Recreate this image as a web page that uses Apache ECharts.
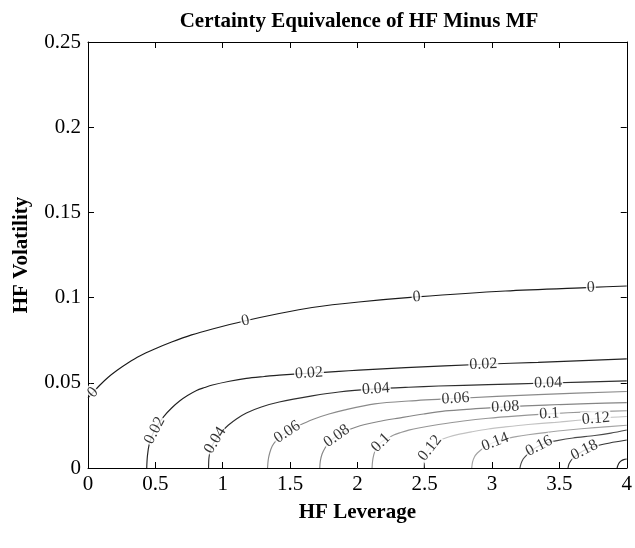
<!DOCTYPE html>
<html>
<head>
<meta charset="utf-8">
<script src="https://cdn.jsdelivr.net/npm/echarts@6/dist/echarts.min.js"></script>
<style>
  html, body { margin: 0; padding: 0; background: #fff; }
  #chart { width: 635px; height: 548px; }
</style>
</head>
<body>
<div id="chart"></div>
<script>
// Contour levels of the certainty-equivalence difference (HF minus MF)
const levels = [0, 0.02, 0.04, 0.06, 0.08, 0.1, 0.12, 0.14, 0.16, 0.18, 0.2];

// Each contour: [HF leverage, HF volatility] pairs
const contour000 = [[0,0.0411],[0.037,0.0443],[0.089,0.0487],[0.148,0.0531],[0.214,0.0572],[0.296,0.0616],[0.384,0.0657],[0.495,0.0698],[0.621,0.0739],[0.769,0.0781],[0.924,0.0816],[1.161,0.0863],[1.420,0.0907],[1.664,0.0942],[2.011,0.0974],[2.440,0.1004],[3.098,0.1039],[3.734,0.1060],[4.0,0.1068]];
const contour002 = [[0.436,0],[0.441,0.0070],[0.455,0.0141],[0.481,0.0200],[0.518,0.0252],[0.562,0.0302],[0.621,0.0352],[0.680,0.0393],[0.739,0.0425],[0.806,0.0455],[0.865,0.0472],[0.924,0.0487],[1.050,0.0509],[1.176,0.0526],[1.309,0.0537],[1.420,0.0545],[1.641,0.0556],[1.863,0.0567],[2.011,0.0574],[2.359,0.0589],[2.935,0.0609],[3.342,0.0620],[4.0,0.0640]];
const contour004 = [[0.895,0],[0.898,0.0059],[0.909,0.0106],[0.932,0.0147],[0.961,0.0182],[0.998,0.0217],[1.043,0.0252],[1.102,0.0288],[1.176,0.0323],[1.287,0.0358],[1.420,0.0387],[1.664,0.0423],[1.863,0.0446],[2.137,0.0464],[2.381,0.0474],[2.603,0.0481],[2.972,0.0489],[3.416,0.0499],[4.0,0.0511]];
const contour006 = [[1.333,0],[1.338,0.0047],[1.349,0.0088],[1.368,0.0129],[1.397,0.0161],[1.434,0.0188],[1.479,0.0211],[1.530,0.0235],[1.582,0.0255],[1.678,0.0288],[1.789,0.0317],[1.900,0.0340],[2.129,0.0376],[2.381,0.0393],[2.728,0.0408],[3.342,0.0431],[4.0,0.0449]];
const contour008 = [[1.721,0],[1.725,0.0041],[1.738,0.0082],[1.760,0.0117],[1.789,0.0150],[1.826,0.0176],[1.871,0.0200],[1.922,0.0220],[1.982,0.0238],[2.055,0.0255],[2.159,0.0273],[2.307,0.0293],[2.492,0.0317],[2.654,0.0335],[2.861,0.0347],[3.098,0.0359],[3.394,0.0369],[3.712,0.0378],[4.0,0.0384]];
const contour010 = [[2.109,0],[2.113,0.0041],[2.122,0.0079],[2.137,0.0112],[2.159,0.0138],[2.189,0.0158],[2.226,0.0176],[2.270,0.0194],[2.322,0.0208],[2.381,0.0222],[2.455,0.0235],[2.603,0.0255],[2.787,0.0276],[2.972,0.0292],[3.194,0.0306],[3.416,0.0318],[3.712,0.0329],[4.0,0.0336]];
const contour012 = [[2.492,0],[2.496,0.0035],[2.506,0.0070],[2.525,0.0103],[2.551,0.0129],[2.584,0.0150],[2.625,0.0167],[2.677,0.0182],[2.750,0.0197],[2.847,0.0212],[2.972,0.0229],[3.098,0.0241],[3.268,0.0255],[3.468,0.0268],[3.638,0.0280],[3.815,0.0293],[4.0,0.0302]];
const contour014 = [[2.849,0],[2.855,0.0035],[2.869,0.0065],[2.891,0.0088],[2.921,0.0109],[2.957,0.0129],[3.002,0.0147],[3.054,0.0161],[3.113,0.0173],[3.179,0.0184],[3.268,0.0195],[3.394,0.0208],[3.564,0.0223],[3.763,0.0237],[4.0,0.0251]];
const contour016 = [[3.207,0],[3.215,0.0026],[3.231,0.0053],[3.257,0.0076],[3.290,0.0100],[3.327,0.0120],[3.372,0.0138],[3.424,0.0151],[3.483,0.0161],[3.601,0.0176],[3.763,0.0191],[3.882,0.0205],[4.0,0.0223]];
const contour018 = [[3.564,0],[3.571,0.0023],[3.586,0.0044],[3.612,0.0065],[3.645,0.0085],[3.682,0.0103],[3.726,0.0117],[3.786,0.0132],[3.874,0.0147],[4.0,0.0164]];
const contour020 = [[3.928,0],[3.934,0.0015],[3.945,0.0031],[3.960,0.0042],[3.978,0.0049],[4.0,0.0053]];

const contours = [contour000, contour002, contour004, contour006, contour008, contour010,
                  contour012, contour014, contour016, contour018, contour020];

// In-line contour labels: [level, leverage, volatility] (snapped onto the contour below)
const contourLabels = [
  [0, 0.037, 0.0443], [0, 1.168, 0.0869], [0, 2.440, 0.1004], [0, 3.734, 0.1060],
  [0.02, 0.495, 0.0220], [0.02, 1.641, 0.0556], [0.02, 2.935, 0.0609],
  [0.04, 0.957, 0.0156], [0.04, 2.137, 0.0464], [0.04, 3.416, 0.0499],
  [0.06, 1.479, 0.0211], [0.06, 2.728, 0.0408],
  [0.08, 1.848, 0.0186], [0.08, 3.098, 0.0359],
  [0.1, 2.189, 0.0135], [0.1, 3.424, 0.0318],
  [0.12, 2.566, 0.0100], [0.12, 3.771, 0.0287],
  [0.14, 3.031, 0.0135],
  [0.16, 3.360, 0.0111],
  [0.18, 3.693, 0.0091]
];

// Axis ticks
const xTicks = [0, 0.5, 1, 1.5, 2, 2.5, 3, 3.5, 4];
const yTicks = [0, 0.05, 0.1, 0.15, 0.2, 0.25];

// Grey shades per level (jet colormap rendered in greyscale)
const levelColors = ['#1a1a1a', '#222222', '#2e2e2e', '#8a8a8a', '#858585', '#969696',
                     '#c2c2c2', '#a3a3a3', '#4a4a4a', '#333333', '#222222'];

const FONT = 'Liberation Serif';
const chart = echarts.init(document.getElementById('chart'), null, { renderer: 'canvas' });

function axisCommon(ticks, showLabels) {
  return {
    type: 'value',
    min: ticks[0],
    max: ticks[ticks.length - 1],
    interval: ticks[1] - ticks[0],
    axisLine: { show: true, onZero: false, lineStyle: { color: '#000', width: 1 } },
    axisTick: { show: true, inside: true, length: 6, lineStyle: { color: '#000', width: 1 } },
    splitLine: { show: false },
    axisLabel: { show: showLabels, color: '#000', fontFamily: FONT, fontSize: 21 }
  };
}

const xMain = axisCommon(xTicks, true);
Object.assign(xMain, {
  position: 'bottom',
  name: 'HF Leverage', nameLocation: 'middle', nameGap: 34,
  nameTextStyle: { color: '#000', fontFamily: FONT, fontSize: 21, fontWeight: 'bold' }
});
xMain.axisLabel.margin = 6;
const xTop = axisCommon(xTicks, false);
xTop.position = 'top';

const yMain = axisCommon(yTicks, true);
Object.assign(yMain, {
  position: 'left',
  name: 'HF Volatility', nameLocation: 'middle', nameGap: 56,
  nameTextStyle: { color: '#000', fontFamily: FONT, fontSize: 21, fontWeight: 'bold' }
});
yMain.axisLabel.margin = 7;
const yRight = axisCommon(yTicks, false);
yRight.position = 'right';

const lineSeries = contours.map((pts, i) => ({
  type: 'line',
  name: String(levels[i]),
  data: pts,
  xAxisIndex: 0, yAxisIndex: 0,
  showSymbol: false,
  smooth: 0.3,
  clip: true,
  silent: true,
  z: 2,
  lineStyle: { color: levelColors[i], width: 1.15 }
}));

chart.setOption({
  animation: false,
  backgroundColor: '#fff',
  title: {
    text: 'Certainty Equivalence of HF Minus MF',
    left: 354, top: 6, textAlign: 'center',
    textStyle: { color: '#000', fontFamily: FONT, fontSize: 21, fontWeight: 'bold' }
  },
  grid: { left: 88, top: 42, width: 541, height: 426 },
  xAxis: [xMain, xTop],
  yAxis: [yMain, yRight],
  series: lineSeries
});

// Place each label on its contour and align it with the local chord of the line
const toPx = p => chart.convertToPixel({ gridIndex: 0 }, p);

function placeLabel(level, x, y) {
  const poly = contours[levels.indexOf(level)].map(toPx);
  const p = toPx([x, y]);
  // arc length along the polyline
  const cum = [0];
  for (let k = 1; k < poly.length; k++) {
    cum.push(cum[k - 1] + Math.hypot(poly[k][0] - poly[k - 1][0], poly[k][1] - poly[k - 1][1]));
  }
  let best = Infinity, sBest = 0, qBest = p;
  for (let k = 0; k < poly.length - 1; k++) {
    const a = poly[k], b = poly[k + 1];
    const dx = b[0] - a[0], dy = b[1] - a[1];
    const len2 = dx * dx + dy * dy || 1;
    let t = ((p[0] - a[0]) * dx + (p[1] - a[1]) * dy) / len2;
    t = Math.max(0, Math.min(1, t));
    const q = [a[0] + t * dx, a[1] + t * dy];
    const d = (q[0] - p[0]) ** 2 + (q[1] - p[1]) ** 2;
    if (d < best) { best = d; qBest = q; sBest = cum[k] + t * Math.sqrt(len2); }
  }
  const at = s => {
    s = Math.max(0, Math.min(cum[cum.length - 1], s));
    for (let k = 0; k < poly.length - 1; k++) {
      if (s <= cum[k + 1] || k === poly.length - 2) {
        const seg = cum[k + 1] - cum[k] || 1;
        const t = (s - cum[k]) / seg;
        return [poly[k][0] + t * (poly[k + 1][0] - poly[k][0]), poly[k][1] + t * (poly[k + 1][1] - poly[k][1])];
      }
    }
  };
  const half = 12;
  const a = at(sBest - half), b = at(sBest + half);
  let angle = Math.atan2(-(b[1] - a[1]), b[0] - a[0]) * 180 / Math.PI;
  if (angle > 90) angle -= 180;
  if (angle < -90) angle += 180;
  const pos = chart.convertFromPixel({ gridIndex: 0 }, qBest);
  return { pos, angle };
}

const labelData = contourLabels.map(([lv, x, y]) => {
  const { pos, angle } = placeLabel(lv, x, y);
  return { value: pos, label: { rotate: angle, formatter: String(lv) } };
});

chart.setOption({
  series: lineSeries.concat([{
    type: 'scatter',
    name: 'labels',
    data: labelData,
    symbolSize: 1,
    itemStyle: { color: 'rgba(255,255,255,0)' },
    silent: true,
    clip: false,
    z: 5,
    label: {
      show: true,
      position: 'inside',
      color: '#000',
      fontFamily: FONT,
      fontSize: 16,
      backgroundColor: '#fff',
      padding: [0, 1]
    }
  }])
});
</script>
</body>
</html>
